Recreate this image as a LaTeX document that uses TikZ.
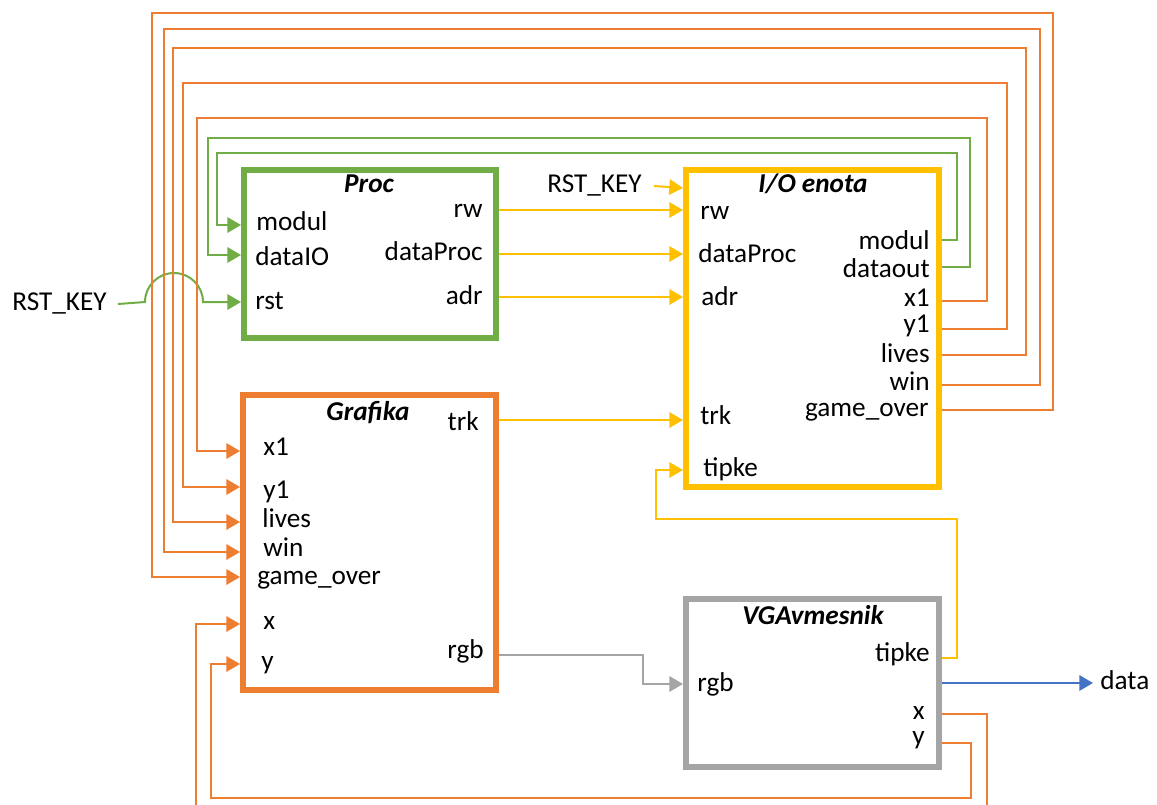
\documentclass[tikz,border=0pt]{standalone}
\usepackage{fontspec}
\setmainfont{Carlito}
\usetikzlibrary{arrows.meta}
\definecolor{cgreen}{HTML}{70AD47}
\definecolor{corange}{HTML}{ED7D31}
\definecolor{cyellow}{HTML}{FFC000}
\definecolor{cgray}{HTML}{A5A5A5}
\definecolor{cblue}{HTML}{4472C4}
\begin{document}
\begin{tikzpicture}[x=0.02cm,y=-0.02cm,
  font=\fontsize{15.5}{18}\selectfont,
  box/.style={draw=#1, line width=0.12cm, inner sep=0pt, fill=white},
  lab/.style={inner sep=0pt, text height=11.6pt, text depth=3.9pt},
  ttl/.style={lab, font=\fontsize{15.5}{18}\selectfont\bfseries\itshape},
  wire/.style={draw=#1, line width=0.04cm},
  arr/.style={-{Triangle[length=7.8pt,width=8.8pt]}}]
\clip (0,0) rectangle (1157,805);
\fill[white] (0,0) rectangle (1157,805);

% ---------- boxes (positions; drawn again on top) ----------
\path (370,254) node[box=cgreen, minimum width=5.04cm, minimum height=3.36cm] (proc) {}
      (812.5,328.5) node[box=cyellow, minimum width=5.06cm, minimum height=6.34cm] (io) {}
      (369.5,542.5) node[box=corange, minimum width=5.06cm, minimum height=5.9cm] (gra) {}
      (812.5,683) node[box=cgray, minimum width=5.06cm, minimum height=3.36cm] (vga) {};

% ---------- ports ----------
\coordinate (Pi-modul) at (proc.west |- 0,225);
\coordinate (Pi-data)  at (proc.west |- 0,255);
\coordinate (Pi-rst)   at (proc.west |- 0,302);
\coordinate (Po-rw)    at (proc.east |- 0,210);
\coordinate (Po-dp)    at (proc.east |- 0,254);
\coordinate (Po-adr)   at (proc.east |- 0,297);
\coordinate (Ii-rst)   at (io.west |- 0,188);
\coordinate (Ii-rw)    at (io.west |- 0,210);
\coordinate (Ii-dp)    at (io.west |- 0,254);
\coordinate (Ii-adr)   at (io.west |- 0,297);
\coordinate (Ii-trk)   at (io.west |- 0,420);
\coordinate (Ii-tip)   at (io.west |- 0,470);
\coordinate (Io-modul) at (io.east |- 0,240);
\coordinate (Io-dout)  at (io.east |- 0,267);
\coordinate (Io-x1)    at (io.east |- 0,301);
\coordinate (Io-y1)    at (io.east |- 0,329);
\coordinate (Io-lives) at (io.east |- 0,355);
\coordinate (Io-win)   at (io.east |- 0,385);
\coordinate (Io-go)    at (io.east |- 0,410);
\coordinate (Gi-x1)    at (gra.west |- 0,451);
\coordinate (Gi-y1)    at (gra.west |- 0,487);
\coordinate (Gi-lives) at (gra.west |- 0,522);
\coordinate (Gi-win)   at (gra.west |- 0,552);
\coordinate (Gi-go)    at (gra.west |- 0,577);
\coordinate (Gi-x)     at (gra.west |- 0,624);
\coordinate (Gi-y)     at (gra.west |- 0,664);
\coordinate (Go-trk)   at (gra.east |- 0,420);
\coordinate (Go-rgb)   at (gra.east |- 0,655);
\coordinate (Vi-rgb)   at (vga.west |- 0,684);
\coordinate (Vo-tip)   at (vga.east |- 0,658);
\coordinate (Vo-data)  at (vga.east |- 0,683);
\coordinate (Vo-x)     at (vga.east |- 0,714);
\coordinate (Vo-y)     at (vga.east |- 0,743);

% ---------- free labels ----------
\node[lab, anchor=west] (rstL) at (12,304) {RST\_KEY};
\node[lab, anchor=west] (rstT) at (547,186) {RST\_KEY};
\node[lab, anchor=west] (data) at (1100,683) {data};

% ---------- wires ----------
\draw[wire=cgreen, arr] (rstL.east) ++(11,0) -- (145,302) arc[start angle=180, end angle=0, radius=0.58cm] -- (Pi-rst);
\draw[wire=cgreen, arr] (Io-modul) -| (957,153) -| (217,225) -- (Pi-modul);
\draw[wire=cgreen, arr] (Io-dout) -| (970,138) -| (208,255) -- (Pi-data);

\draw[wire=corange, arr] (Io-x1) -| (987,118) -| (197,451) -- (Gi-x1);
\draw[wire=corange, arr] (Io-y1) -| (1007,83) -| (183,487) -- (Gi-y1);
\draw[wire=corange, arr] (Io-lives) -| (1026,48) -| (173,522) -- (Gi-lives);
\draw[wire=corange, arr] (Io-win) -| (1040,29) -| (164,552) -- (Gi-win);
\draw[wire=corange, arr] (Io-go) -| (1053,13) -| (152,577) -- (Gi-go);
\draw[wire=corange, arr] (Vo-x) -| (987,830) -| (196,624) -- (Gi-x);
\draw[wire=corange, arr] (Vo-y) -| (971,798) -| (211,664) -- (Gi-y);

\draw[wire=cyellow, arr] (rstT.east) ++(12,0) -- (Ii-rst);
\draw[wire=cyellow, arr] (Po-rw) -- (Ii-rw);
\draw[wire=cyellow, arr] (Po-dp) -- (Ii-dp);
\draw[wire=cyellow, arr] (Po-adr) -- (Ii-adr);
\draw[wire=cyellow, arr] (Go-trk) -- (Ii-trk);
\draw[wire=cyellow, arr] (Vo-tip) -| (957,519) -| (656,470) -- (Ii-tip);

\draw[wire=cgray, arr] (Go-rgb) -| (643,684) -- (Vi-rgb);
\draw[wire=cblue, arr, shorten >=4pt] (Vo-data) -- (data.west);

% ---------- boxes on top ----------
\node[box=cgreen, minimum width=5.04cm, minimum height=3.36cm] at (proc) {};
\node[box=cyellow, minimum width=5.06cm, minimum height=6.34cm] at (io) {};
\node[box=corange, minimum width=5.06cm, minimum height=5.9cm] at (gra) {};
\node[box=cgray, minimum width=5.06cm, minimum height=3.36cm] at (vga) {};

% ---------- titles ----------
\node[ttl] (tproc) at (369,186) {Proc};
\node[ttl] (tio) at (813,186) {I/O enota};
\node[ttl] (tgra) at (368,414) {Grafika};
\node[ttl] (tvga) at (813,618) {VGAvmesnik};

% ---------- port labels ----------
\node[lab, anchor=west] (lp1) at (256,224) {modul};
\node[lab, anchor=west] (lp2) at (255,259) {dataIO};
\node[lab, anchor=west] (lp3) at (255,303) {rst};
\node[lab, anchor=east] (lp4) at (483,211) {rw};
\node[lab, anchor=east] (lp5) at (483,254) {dataProc};
\node[lab, anchor=east] (lp6) at (483,298) {adr};

\node[lab, anchor=west] (li1) at (700,213) {rw};
\node[lab, anchor=west] (li2) at (698,256) {dataProc};
\node[lab, anchor=west] (li3) at (701,299) {adr};
\node[lab, anchor=west] (li4) at (700,418) {trk};
\node[lab, anchor=west] (li5) at (703,470) {tipke};
\node[lab, anchor=east] (lo1) at (930,243) {modul};
\node[lab, anchor=east] (lo2) at (930,271) {dataout};
\node[lab, anchor=east] (lo3) at (930,300) {x1};
\node[lab, anchor=east] (lo4) at (930,326) {y1};
\node[lab, anchor=east] (lo5) at (930,356) {lives};
\node[lab, anchor=east] (lo6) at (930,384) {win};
\node[lab, anchor=east] (lo7) at (929,410) {game\_over};

\node[lab, anchor=west] (lg1) at (263,449) {x1};
\node[lab, anchor=west] (lg2) at (263,492) {y1};
\node[lab, anchor=west] (lg3) at (262,521) {lives};
\node[lab, anchor=west] (lg4) at (263,550) {win};
\node[lab, anchor=west] (lg5) at (257,578) {game\_over};
\node[lab, anchor=west] (lg6) at (263,623) {x};
\node[lab, anchor=west] (lg7) at (261,663) {y};
\node[lab, anchor=east] (lg8) at (479,424) {trk};
\node[lab, anchor=east] (lg9) at (484,652) {rgb};

\node[lab, anchor=west] (lv1) at (697,685) {rgb};
\node[lab, anchor=east] (lv2) at (930,655) {tipke};
\node[lab, anchor=east] (lv3) at (925,713) {x};
\node[lab, anchor=east] (lv4) at (925,738) {y};
\end{tikzpicture}
\end{document}
